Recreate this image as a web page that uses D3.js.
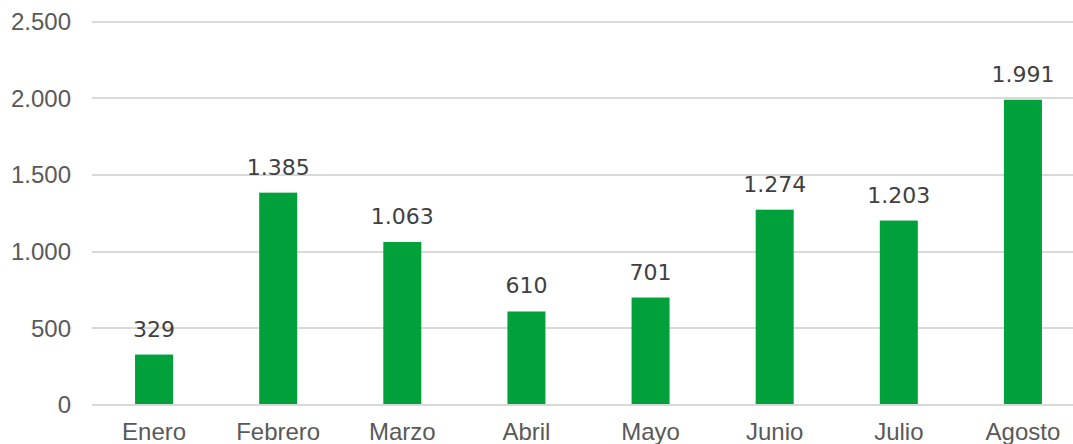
<!DOCTYPE html>
<html lang="es">
<head>
    <meta charset="UTF-8">
    <title>Meses</title>
    <script src="https://d3js.org/d3.v7.min.js"></script>
    <style>
        body { margin: 0; background: #fff; }
        .grid line { stroke: #d9d9d9; stroke-width: 2; shape-rendering: crispEdges; }
        .axis-label { font-family: "Liberation Sans", Arial, sans-serif; font-size: 24px; fill: #595959; }
        .value-label { font-family: "DejaVu Sans", sans-serif; font-size: 22px; fill: #404040; }
        .bar { fill: #00a03a; }
    </style>
</head>
<body>
    <svg width="1073" height="444"></svg>
    <script>
        // Datos
        const months = ["Enero", "Febrero", "Marzo", "Abril", "Mayo", "Junio", "Julio", "Agosto"];
        const values = [329, 1385, 1063, 610, 701, 1274, 1203, 1991];
        const yTicks = [0, 500, 1000, 1500, 2000, 2500];

        const svg = d3.select("svg");
        const fmt = d3.formatLocale({ decimal: ",", thousands: ".", grouping: [3], currency: ["", ""] }).format(",d");

        const x = d3.scaleBand()
            .domain(months)
            .range([92, 1085]);

        const y = d3.scaleLinear()
            .domain([0, 2500])
            .range([405, 21.7]);

        const barW = 38;

        // Líneas de cuadrícula
        svg.append("g")
            .attr("class", "grid")
            .selectAll("line")
            .data(yTicks)
            .enter().append("line")
            .attr("x1", 92)
            .attr("x2", 1073)
            .attr("y1", d => Math.round(y(d)))
            .attr("y2", d => Math.round(y(d)));

        // Etiquetas del eje Y
        svg.append("g")
            .selectAll("text")
            .data(yTicks)
            .enter().append("text")
            .attr("class", "axis-label")
            .attr("x", 71)
            .attr("y", d => y(d) + 8.4)
            .attr("text-anchor", "end")
            .text(d => fmt(d));

        // Barras
        svg.append("g")
            .selectAll("rect")
            .data(months)
            .enter().append("rect")
            .attr("class", "bar")
            .attr("x", d => x(d) + x.bandwidth() / 2 - barW / 2)
            .attr("width", barW)
            .attr("y", (d, i) => y(values[i]))
            .attr("height", (d, i) => y(0) - y(values[i]) - 1);

        // Valores
        svg.append("g")
            .selectAll("text")
            .data(months)
            .enter().append("text")
            .attr("class", "value-label")
            .attr("x", d => x(d) + x.bandwidth() / 2)
            .attr("y", (d, i) => y(values[i]) - 18)
            .attr("text-anchor", "middle")
            .text((d, i) => fmt(values[i]));

        // Etiquetas del eje X
        svg.append("g")
            .selectAll("text")
            .data(months)
            .enter().append("text")
            .attr("class", "axis-label")
            .attr("x", d => x(d) + x.bandwidth() / 2)
            .attr("y", 440)
            .attr("text-anchor", "middle")
            .text(d => d);
    </script>
</body>
</html>
